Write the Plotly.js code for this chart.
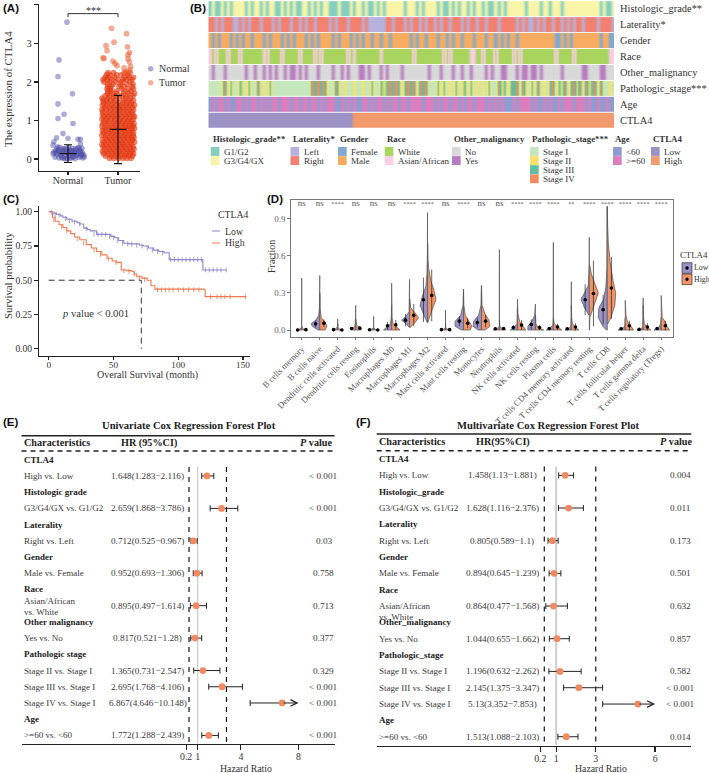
<!DOCTYPE html>
<html>
<head>
<meta charset="utf-8">
<script src="https://cdn.plot.ly/plotly-3.0.1.min.js"></script>
<style>body{margin:0;background:#fff}</style>
</head>
<body>
<div id="fig" style="width:709px;height:773px"></div>
<script>
// (A) expression scatter, x offsets are the jitter
var normalX = [-.02,-.18,-.2,.09,-.2,-.2,-.08,.1,-.1,0,-.23,-.28,.25,.2,-.3,.25,.23,-.2,.28,
  -.3,-.26,-.22,-.18,-.14,-.1,-.06,-.02,.02,.06,.1,.14,.18,.22,.26,.3,.33,
  -.28,-.24,-.2,-.15,-.11,-.05,0,.05,.09,.13,.17,.21,.27,.31,
  -.25,-.19,-.12,-.08,-.03,.03,.07,.12,.16,.24,.29,
  -.22,-.16,-.09,-.04,.01,.08,.15,.2,.25,-.13,-.06,.04,.11];
var normalY = [3.55,2.57,2.14,1.69,1.43,1.05,1.16,.92,.66,.54,.55,.45,.51,.51,.36,.39,.28,.32,.28,
  .14,.05,.12,.03,.1,.02,.07,.01,.09,.03,.06,.01,.1,.04,.08,.03,.06,
  .18,.16,.2,.14,.18,.13,.16,.19,.13,.17,.14,.15,.12,.11,
  .22,.24,.21,.25,.2,.23,.22,.21,.24,.22,.16,
  .28,.3,.27,.26,.31,.28,.27,.3,.2,.04,.01,.03,.06];

var tumorBandY = [.02,.08,.14,.2,.26,.32,.38,.44,.5,.56,.62,.68,.74,.8,.86,.92,.98,1.04,1.1,1.16,1.22,1.28,1.34,1.4,1.46,1.52,1.58,1.64,1.7,1.76,1.82,1.88,1.94,2.0,2.06,2.12,2.18,2.24];
var tumorBandX = [
  [-.17,-.08,.01,.1,.18,.26],
  [-.25,-.14,-.05,.04,.13,.21,.29],
  [-.29,-.2,-.11,-.02,.07,.16,.24,.31],
  [-.31,-.22,-.13,-.05,.03,.11,.2,.28],
  [-.27,-.18,-.09,0,.09,.17,.25,.32],
  [-.3,-.21,-.12,-.03,.06,.14,.23,.3],
  [-.32,-.24,-.15,-.07,.02,.1,.19,.27],
  [-.28,-.19,-.1,-.01,.08,.16,.25,.33],
  [-.31,-.22,-.14,-.05,.04,.12,.21,.29],
  [-.26,-.17,-.08,.01,.1,.18,.27,.32],
  [-.32,-.23,-.13,-.04,.05,.14,.22,.3],
  [-.29,-.2,-.11,-.02,.07,.15,.24,.31],
  [-.31,-.24,-.15,-.06,.03,.12,.2,.28],
  [-.27,-.18,-.09,0,.09,.17,.26,.33],
  [-.32,-.22,-.12,-.03,.06,.15,.23,.3],
  [-.3,-.2,-.1,-.01,.08,.16,.25,.32],
  [-.28,-.19,-.08,.02,.1,.19,.27],
  [-.32,-.23,-.14,-.05,.04,.13,.22,.31],
  [-.29,-.21,-.11,-.02,.07,.16,.24,.33],
  [-.31,-.22,-.13,-.04,.05,.14,.23,.3],
  [-.3,-.19,-.09,.01,.11,.2,.28],
  [-.32,-.24,-.15,-.06,.03,.12,.22,.31],
  [-.27,-.17,-.08,.02,.1,.19,.29],
  [-.31,-.22,-.12,-.03,.06,.16,.25,.33],
  [-.29,-.2,-.1,0,.09,.18,.27],
  [-.3,-.23,-.14,-.05,.12,.22,.31],
  [-.32,-.2,-.09,.03,.15,.25],
  [-.26,-.17,-.06,.08,.18,.3],
  [-.21,-.12,-.02,.11,.22,.33],
  [-.2,-.14,-.03,.14,.26],
  [-.22,-.15,.07,.2,.31],
  [-.2,-.13,.02,.12,.28],
  [-.21,-.1,.05,.18,.3],
  [-.28,-.16,-.04,.08,.24],
  [-.3,-.22,-.12,0,.1,.17,.28],
  [-.26,-.19,-.07,.13,.22,.31],
  [-.23,-.16,-.03,.06,.2],
  [-.2,-.09,.13,.24]
];
var tumorTopX = [-.13,.17,-.08,-.24,.19,-.22,.23,.2,-.3,-.28,.2,-.1,.23,-.02,.25,.12,.18,.24,.15,-.06];
var tumorTopY = [3.39,3.25,3.03,2.94,2.91,2.81,2.76,2.7,2.62,2.61,2.6,2.54,2.52,2.42,2.4,2.36,2.27,2.31,2.22,2.48];
var groupMean = [.14,.77];
var groupSdUp = [.23,.88];
var groupSdDown = [.23,.89];
var groupNames = ['Normal','Tumor'];

// (B) annotation heatmap, one digit per patient column
var gradeCells = '010010101111010 110101100101010 011010101100010 001011010010101 111110111010111 101001010110101 101001010111111 011110110111011 111111111101001';
var lateralityCells = '110101110010101 110111010111011 010110111101011 101111010000001 101110101101011 010110111010110 110111011111010 100101011011010 101101111011110';
var genderCells = '101011101010110 111010111010101 110101011110101 110101011011011 011111101011011 101101011011101 110110101011011 111111111100101 011111111101100';
var raceCells = '102000200020000 000120000200000 200002020000000 020100000000100 000000002000000 000202000000110 020002000002020 000000000020000 020000000000011';
var otherCells = '010001000000100 100101010010110 101000100001001 010001101000101 000010000000010 001000100100100 001010011000101 101101000000100 000011000011000';
var stageCells = '000013020021020 030102000000000 000032323100310 100100100200212 323202323032300 020201020120201 010200312022303 102030102302130 231303123030010';
var ageCells = '010110100110101 101010110111011 011011010111001 010100110101101 011011011110111 010110110101101 110101010001011 110100101001011 101110100100100';
var ctla4Cells = '000000000000000 000000000000000 000000000000000 000111111111111 111111111111111 111111111111111 111111111111111 111111111111111 111111111111111';
var heatRows = ['Histologic_grade**','Laterality*','Gender','Race','Other_malignancy','Pathologic_stage***','Age','CTLA4'];
var heatCells = [gradeCells,lateralityCells,genderCells,raceCells,otherCells,stageCells,ageCells,ctla4Cells];
var heatColors = [['#84CFC0','#F8F5A9'],['#B6B1DD','#F4806F'],['#7FA9CF','#F8AC61'],['#A9D45E','#F8CFE4','#CBD08F'],
  ['#D9D9D9','#B87DC0'],['#C6E7BD','#F8E26B','#5FBF9F','#F58C61'],['#8E9DD0','#DC7EBD'],['#9C92C4','#F19A6E']];

// (C) survival curves
var lowMonths = [0,3,6,9,11,14,18,22,24,27,30,32,37,42,45,48,51,54,58,62,66,70,73,77,81,85,89,93,118.5,119,137];
var lowSurv = [1,.99,.98,.97,.96,.945,.93,.92,.91,.88,.87,.86,.835,.835,.835,.82,.81,.79,.77,.765,.765,.755,.75,.735,.72,.71,.7,.65,.65,.575,.575];
var highMonths = [0,3,5,8,11,14,17,20,24,29,33,37,41,45,49,52,56,60,64,66,68,72,76,79,82,120,120.8,152.6];
var highSurv = [1,.96,.93,.905,.885,.86,.84,.815,.795,.76,.735,.71,.685,.66,.64,.63,.575,.57,.565,.545,.525,.515,.5,.46,.435,.43,.38,.38];
var lowCensorX = [2,5,8,13,16,20,24,29,35,38,41,44,47,50,53,57,61,64,68,72,76,80,84,88,94,97,100,103,106,109,112,115,118,121,124,127,130,133,137];
var lowCensorY = [.995,.98,.975,.95,.935,.925,.91,.875,.835,.835,.835,.835,.82,.81,.79,.77,.765,.765,.755,.75,.735,.72,.71,.7,.65,.65,.65,.65,.65,.65,.65,.65,.65,.575,.575,.575,.575,.575,.575];
var highCensorX = [4,10,14,22,27,35,40,46,52,58,62,66,70,74,84,87,90,93,96,100,104,108,112,116,125,130,133,136,140,152];
var highCensorY = [.94,.89,.86,.8,.77,.72,.69,.655,.63,.57,.565,.545,.52,.505,.43,.43,.43,.43,.43,.43,.43,.43,.43,.43,.38,.38,.38,.38,.38,.38];

// (D) immune cell fractions: half violin profiles as [fraction, half width]
var cellTypes = ['B cells memory','B cells naive','Dendritic cells activated','Dendritic cells resting','Eosinophils','Macrophages M0','Macrophages M1','Macrophages M2','Mast cells activated','Mast cells resting','Monocytes','Neutrophils','NK cells activated','NK cells resting','Plasma cells','T cells CD4 memory activated','T cells CD4 memory resting','T cells CD8','T cells follicular helper','T cells gamma delta','T cells regulatory (Tregs)'];
var cellSig = ['ns','ns','****','ns','ns','ns','****','****','ns','****','ns','ns','****','****','****','**','****','****','****','****','****'];
var violinLow = [
  [[0,.3],[.008,.12],[.02,.01],[.42,.004]],
  [[0,.1],[.03,.42],[.05,.48],[.08,.22],[.12,.06],[.2,.01],[.44,.003]],
  [[0,.3],[.01,.1],[.03,.005],[.09,.003]],
  [[0,.25],[.012,.22],[.03,.05],[.1,.006],[.2,.003]],
  [[0,.3],[.008,.1],[.02,.004],[.11,.003]],
  [[0,.45],[.02,.3],[.05,.06],[.1,.02],[.2,.005]],
  [[.025,.04],[.05,.2],[.08,.45],[.11,.2],[.15,.03],[.41,.003]],
  [[.06,.02],[.12,.2],[.2,.42],[.28,.28],[.35,.1],[.45,.04],[.6,.01],[.95,.003]],
  [[0,.3],[.008,.1],[.02,.005],[.16,.003]],
  [[0,.12],[.03,.47],[.07,.47],[.12,.16],[.2,.03],[.33,.003]],
  [[0,.2],[.03,.47],[.07,.44],[.12,.16],[.2,.03],[.36,.003]],
  [[0,.35],[.012,.12],[.03,.01],[.65,.003]],
  [[0,.4],[.02,.2],[.05,.03],[.1,.01],[.18,.003]],
  [[0,.42],[.03,.42],[.07,.2],[.12,.04],[.21,.003]],
  [[0,.4],[.015,.2],[.04,.03],[.1,.005],[.71,.003]],
  [[0,.35],[.012,.15],[.03,.03],[.1,.005],[.39,.003]],
  [[.12,.02],[.18,.27],[.25,.47],[.3,.27],[.36,.06],[.5,.01],[.75,.003]],
  [[0,.05],[.03,.25],[.1,.5],[.18,.47],[.25,.2],[.35,.08],[.5,.02],[1,.003]],
  [[0,.4],[.01,.2],[.03,.03],[.06,.01],[.1,.003]],
  [[0,.35],[.01,.1],[.03,.02],[.26,.003]],
  [[0,.4],[.02,.15],[.05,.03],[.1,.004]]
];
var violinHigh = [
  [[0,.3],[.008,.1],[.02,.005],[.03,.003]],
  [[0,.3],[.03,.4],[.06,.32],[.1,.08],[.17,.02],[.3,.004]],
  [[0,.3],[.008,.1],[.02,.004],[.05,.002]],
  [[0,.3],[.02,.22],[.04,.05],[.09,.006]],
  [[0,.3],[.006,.08],[.02,.003]],
  [[0,.47],[.02,.32],[.05,.08],[.1,.02],[.38,.003]],
  [[.02,.03],[.06,.3],[.1,.5],[.14,.3],[.18,.06],[.25,.01]],
  [[.06,.01],[.15,.22],[.25,.47],[.32,.36],[.4,.18],[.5,.06],[.58,.02],[.7,.005]],
  [[0,.3],[.008,.1],[.02,.005],[.05,.002]],
  [[0,.37],[.03,.47],[.07,.3],[.12,.1],[.2,.02],[.33,.003]],
  [[0,.2],[.03,.47],[.08,.42],[.13,.2],[.2,.03],[.36,.003]],
  [[0,.35],[.012,.15],[.03,.02],[.08,.004]],
  [[0,.47],[.03,.32],[.07,.12],[.13,.03],[.25,.003]],
  [[0,.47],[.02,.15],[.05,.03],[.12,.005]],
  [[0,.47],[.02,.3],[.05,.05],[.1,.006]],
  [[0,.42],[.02,.25],[.05,.06],[.1,.02],[.2,.004]],
  [[0,.015],[.1,.03],[.2,.25],[.3,.5],[.38,.3],[.45,.12],[.52,.03]],
  [[.05,.03],[.1,.2],[.2,.42],[.3,.47],[.4,.32],[.55,.16],[.7,.06],[.85,.02],[1,.003]],
  [[0,.47],[.03,.32],[.07,.12],[.12,.04],[.24,.003]],
  [[0,.42],[.02,.25],[.05,.06],[.1,.02],[.2,.004]],
  [[0,.47],[.03,.32],[.06,.26],[.1,.06],[.28,.003]]
];
var meanLow = [0,.05,.003,.012,.002,.035,.08,.245,.003,.072,.06,.01,.02,.045,.012,.01,.245,.165,.01,.005,.012];
var meanHigh = [.003,.055,0,.015,0,.042,.12,.28,.003,.055,.072,.012,.04,.02,.025,.025,.295,.34,.035,.025,.035];
var sdLow = [.01,.03,.005,.01,.004,.03,.05,.18,.005,.04,.04,.01,.02,.04,.012,.01,.125,.12,.01,.005,.012];
var sdHigh = [.01,.03,.003,.012,.003,.04,.09,.21,.005,.04,.05,.012,.04,.02,.025,.03,.265,.25,.04,.03,.04];

// (E) and (F) Cox regression tables
var forestRowNames = ['CTLA4','High vs. Low','Histologic grade','G3/G4/GX vs. G1/G2','Laterality','Right vs. Left','Gender','Male vs. Female','Race','Asian/African','Other malignancy','Yes vs. No','Pathologic stage','Stage II vs. Stage I','Stage III vs. Stage I','Stage IV vs. Stage I','Age','&gt;=60 vs. &lt;60'];
var forestRowsF = ['CTLA4','High vs. Low','Histologic_grade','G3/G4/GX vs. G1/G2','Laterality','Right vs. Left','Gender','Male vs. Female','Race','Asian/African','Other_malignancy','Yes vs. No','Pathologic_stage','Stage II vs. Stage I','Stage III vs. Stage I','Stage IV vs. Stage I','Age','&gt;=60 vs. &lt;60'];
var dataRows = [1,3,5,7,9,11,13,14,15,17];
var uniHR = [1.648,2.659,.712,.952,.895,.817,1.365,2.695,6.867,1.772];
var uniLo = [1.283,1.868,.525,.693,.497,.521,.731,1.768,4.646,1.288];
var uniHi = [2.116,3.786,.967,1.306,1.614,1.28,2.547,4.106,10.148,2.439];
var uniP = ['&lt; 0.001','&lt; 0.001','0.03','0.758','0.713','0.377','0.329','&lt; 0.001','&lt; 0.001','&lt; 0.001'];
var multiHR = [1.458,1.628,.805,.894,.864,1.044,1.196,2.145,5.13,1.513];
var multiLo = [1.13,1.116,.589,.645,.477,.655,.632,1.375,3.352,1.088];
var multiHi = [1.881,2.376,1.1,1.239,1.568,1.662,2.262,3.347,7.853,2.103];
var multiP = ['0.004','0.011','0.173','0.501','0.632','0.857','0.582','&lt; 0.001','&lt; 0.001','0.014'];

var serif = '"Liberation Serif", serif';
var ink = '#333';
function dx(a, b) { return [a / 709, b / 709]; }
function dy(top, bottom) { return [1 - bottom / 773, 1 - top / 773]; }
function px(x) { return x / 709; }
function py(y) { return 1 - y / 773; }

var annotations = [], shapes = [], traces = [];
function label(x, y, text, size, anchor, extra) {
  var a = {xref: 'paper', yref: 'paper', x: px(x), y: py(y), text: text, showarrow: false,
    xanchor: anchor || 'left', yanchor: 'middle', font: {size: size, color: ink, family: serif}};
  for (var k in (extra || {})) a[k] = extra[k];
  annotations.push(a);
}
function square(x, y, w, h, color, line) {
  shapes.push({type: 'rect', xref: 'paper', yref: 'paper', x0: px(x), x1: px(x + w), y0: py(y + h), y1: py(y),
    fillcolor: color, line: line || {width: 0}});
}
function rule(x0, x1, y, width, dash) {
  shapes.push({type: 'line', xref: 'paper', yref: 'paper', x0: px(x0), x1: px(x1), y0: py(y), y1: py(y),
    line: {color: '#222', width: width, dash: dash || 'solid'}});
}
function panel(x, y, name) {
  label(x, y, '<b>' + name + '</b>', 11.5, 'left', {font: {size: 11.5, color: '#111', family: '"Liberation Sans", sans-serif'}});
}
panel(1, 8, '(A)'); panel(188, 8, '(B)'); panel(1, 199, '(C)'); panel(265, 199, '(D)'); panel(1, 422, '(E)'); panel(354, 422, '(F)');

// --- A
var tumorX = [], tumorY = [];
tumorBandX.forEach(function (xs, i) {
  xs.forEach(function (v) { tumorX.push(2 + v); tumorY.push(tumorBandY[i]); });
});
traces.push({type: 'scatter', mode: 'markers', xaxis: 'x', yaxis: 'y', x: normalX.map(function (v) { return 1 + v; }), y: normalY,
  marker: {size: 5.6, color: 'rgba(72,72,165,0.45)'}});
traces.push({type: 'scatter', mode: 'markers', xaxis: 'x', yaxis: 'y', x: tumorX, y: tumorY,
  marker: {size: 5.8, color: 'rgba(228,55,15,0.62)'}});
traces.push({type: 'scatter', mode: 'markers', xaxis: 'x', yaxis: 'y', x: tumorTopX.map(function (v) { return 2 + v; }), y: tumorTopY,
  marker: {size: 5.8, color: 'rgba(236,85,40,0.5)'}});
traces.push({type: 'scatter', mode: 'markers', xaxis: 'x', yaxis: 'y', x: [1, 2], y: groupMean, marker: {size: 1, color: '#111'},
  error_y: {type: 'data', symmetric: false, array: groupSdUp, arrayminus: groupSdDown, color: '#111', thickness: 1.2, width: 4},
  error_x: {type: 'constant', value: 0.17, color: '#111', thickness: 1.2, width: 0}});
traces.push({type: 'scatter', mode: 'lines', xaxis: 'x', yaxis: 'y', x: [1, 1, 2, 2], y: [3.68, 3.77, 3.77, 3.68], line: {color: '#333', width: 1}});
label(93, 11, '***', 10, 'center');
label(8, 89, 'The expression of CTLA4', 11, 'center', {textangle: -90});
shapes.push({type: 'circle', xref: 'paper', yref: 'paper', x0: px(148), x1: px(153.4), y0: py(71.4), y1: py(66), fillcolor: 'rgba(72,72,165,0.45)', line: {width: 0}});
shapes.push({type: 'circle', xref: 'paper', yref: 'paper', x0: px(148), x1: px(153.4), y0: py(85.4), y1: py(80), fillcolor: 'rgba(240,110,70,0.55)', line: {width: 0}});
label(156.5, 68.5, 'Normal', 10); label(156.5, 82.5, 'Tumor', 10);

// --- B
heatRows.forEach(function (name, i) {
  var digits = heatCells[i].replace(/ /g, '').split('').map(Number);
  var cols = heatColors[i];
  traces.push({type: 'heatmap', xaxis: 'x2', yaxis: 'y2', z: [digits, digits], y: [i - .235, i + .235], zsmooth: 'best', showscale: false, hoverinfo: 'skip',
    zmin: 0, zmax: cols.length - 1,
    colorscale: cols.map(function (c, k) { return [k / (cols.length - 1), c]; })});
});
var keyBlocks = [
  {x: 210.7, title: 'Histologic_grade**', names: ['G1/G2', 'G3/G4/GX'], row: 0},
  {x: 290.5, title: 'Laterality*', names: ['Left', 'Right'], row: 1},
  {x: 338, title: 'Gender', names: ['Female', 'Male'], row: 2},
  {x: 384.7, title: 'Race', names: ['White', 'Asian/African'], row: 3},
  {x: 452, title: 'Other_malignancy', names: ['No', 'Yes'], row: 4},
  {x: 530, title: 'Pathologic_stage***', names: ['Stage I', 'Stage II', 'Stage III', 'Stage IV'], row: 5},
  {x: 613, title: 'Age', names: ['&lt;60', '&gt;=60'], row: 6},
  {x: 651, title: 'CTLA4', names: ['Low', 'High'], row: 7}
];
keyBlocks.forEach(function (b) {
  label(b.x, 139, '<b>' + b.title + '</b>', 8.8);
  b.names.forEach(function (n, k) {
    var y0 = 147 + k * 9.1;
    square(b.x, y0, 8.7, 8.9, heatColors[b.row][k]);
    label(b.x + 11.3, y0 + 4.6, n, 9);
  });
});

// --- C
traces.push({type: 'scatter', mode: 'lines', xaxis: 'x3', yaxis: 'y3', x: lowMonths, y: lowSurv, line: {color: '#8E88C8', width: 1.1, shape: 'hv'}});
traces.push({type: 'scatter', mode: 'lines', xaxis: 'x3', yaxis: 'y3', x: highMonths, y: highSurv, line: {color: '#F07A50', width: 1.1, shape: 'hv'}});
traces.push({type: 'scatter', mode: 'markers', xaxis: 'x3', yaxis: 'y3', x: lowCensorX, y: lowCensorY, marker: {symbol: 'line-ns', size: 3.5, line: {color: '#8E88C8', width: .8}}});
traces.push({type: 'scatter', mode: 'markers', xaxis: 'x3', yaxis: 'y3', x: highCensorX, y: highCensorY, marker: {symbol: 'line-ns', size: 3.5, line: {color: '#F07A50', width: .8}}});
traces.push({type: 'scatter', mode: 'lines', xaxis: 'x3', yaxis: 'y3', x: [0, 71.5, 71.5], y: [.5, .5, 0], line: {color: '#333', width: 1, dash: '6px,4px'}});
label(60, 313, '<i>p</i> value &lt; 0.001', 10.6);
label(8, 276, 'Survival probability', 10.8, 'center', {textangle: -90});
label(147, 375, 'Overall Survival (month)', 10, 'center');
label(216, 214, 'CTLA4', 9.8);
shapes.push({type: 'line', xref: 'paper', yref: 'paper', x0: px(212), x1: px(220), y0: py(231), y1: py(231), line: {color: '#8E88C8', width: 1}});
shapes.push({type: 'line', xref: 'paper', yref: 'paper', x0: px(212), x1: px(220), y0: py(243), y1: py(243), line: {color: '#F07A50', width: 1}});
label(222.5, 231, 'Low', 9.8); label(222.5, 243, 'High', 9.8);

// --- D
function violinPath(profiles, sign) {
  var xs = [], ys = [];
  profiles.forEach(function (prof, i) {
    xs.push(i); ys.push(prof[0][0]);
    prof.forEach(function (p) { xs.push(i + sign * p[1]); ys.push(p[0]); });
    xs.push(i); ys.push(prof[prof.length - 1][0]);
    xs.push(i); ys.push(prof[0][0]);
    xs.push(null); ys.push(null);
  });
  return {x: xs, y: ys};
}
var pathLow = violinPath(violinLow, -1), pathHigh = violinPath(violinHigh, 1);
var catIdx = cellTypes.map(function (c, i) { return i; });
traces.push({type: 'scatter', mode: 'lines', xaxis: 'x4', yaxis: 'y4', x: pathLow.x, y: pathLow.y, fill: 'toself', fillcolor: '#9A92C6', line: {color: '#555', width: .7}});
traces.push({type: 'scatter', mode: 'lines', xaxis: 'x4', yaxis: 'y4', x: pathHigh.x, y: pathHigh.y, fill: 'toself', fillcolor: '#F19468', line: {color: '#555', width: .7}});
traces.push({type: 'scatter', mode: 'markers', xaxis: 'x4', yaxis: 'y4', x: catIdx.map(function (i) { return i - .23; }), y: meanLow,
  marker: {size: 3.6, color: '#000'}, error_y: {type: 'data', array: sdLow, color: '#222', thickness: .7, width: 0}});
traces.push({type: 'scatter', mode: 'markers', xaxis: 'x4', yaxis: 'y4', x: catIdx.map(function (i) { return i + .23; }), y: meanHigh,
  marker: {size: 3.6, color: '#000'}, error_y: {type: 'data', array: sdHigh, color: '#222', thickness: .7, width: 0}});
traces.push({type: 'scatter', mode: 'text', xaxis: 'x4', yaxis: 'y4', x: catIdx, y: cellSig.map(function () { return 1.019; }), text: cellSig,
  textposition: 'middle center', textfont: {size: cellSig.map(function (s) { return s === 'ns' ? 8.8 : 6.4; }), color: '#555', family: serif}});
label(271, 257, 'Fraction', 10, 'center', {textangle: -90});
label(678, 255.5, 'CTLA4', 8.8);
square(682, 262.7, 10, 10.6, '#9A92C6', {color: '#333', width: .7});
square(682, 274, 10, 10.6, '#F19468', {color: '#333', width: .7});
shapes.push({type: 'circle', xref: 'paper', yref: 'paper', x0: px(685.3), x1: px(688.7), y0: py(269.7), y1: py(266.3), fillcolor: '#000', line: {width: 0}});
shapes.push({type: 'circle', xref: 'paper', yref: 'paper', x0: px(685.3), x1: px(688.7), y0: py(281), y1: py(277.6), fillcolor: '#000', line: {width: 0}});
label(691.5, 268, 'Low', 7.8); label(691.5, 279.5, 'High', 7.8);

// --- E, F
function forest(o) {
  var ya = o.yaxisId, xa = o.xaxisId;
  var capped = o.hi.map(function (v) { return v > o.cap; });
  traces.push({type: 'scatter', mode: 'lines', xaxis: xa, yaxis: ya, x: [1, 1], y: [.45, 17.5], line: {color: '#cfcfcf', width: o.grey}});
  [.4, 3].forEach(function (v) {
    traces.push({type: 'scatter', mode: 'lines', xaxis: xa, yaxis: ya, x: [v, v], y: [.45, 17.5], line: {color: '#111', width: 1.2, dash: '5px,5px'}});
  });
  traces.push({type: 'scatter', mode: 'markers', xaxis: xa, yaxis: ya, x: o.hr, y: dataRows, marker: {size: 6.8, color: '#F08A62'},
    error_x: {type: 'data', symmetric: false, color: '#222', thickness: 1, width: 3,
      array: o.hi.map(function (v, i) { return capped[i] ? 0 : v - o.hr[i]; }),
      arrayminus: o.lo.map(function (v, i) { return o.hr[i] - v; })}});
  o.hi.forEach(function (v, i) {
    if (capped[i]) annotations.push({xref: xa, yref: ya, axref: xa, ayref: ya, x: o.cap, y: dataRows[i], ax: o.hr[i], ay: dataRows[i], text: '',
      showarrow: true, arrowhead: 5, arrowsize: 1.3, arrowwidth: 1, arrowcolor: '#222'});
  });
  label(o.title[0], 425.7, '<b>' + o.title[1] + '</b>', 10.6, 'center', {font: {size: 10.6, color: '#222', family: serif}});
  rule(o.left, o.right, o.topRule, 1.4);
  rule(o.left, o.right, o.dashRule, 1.4, '5px,4px');
  var head = {font: {size: 10.2, color: '#222', family: serif}};
  label(o.left, o.headY, '<b>Characteristics</b>', 10.2, 'left', head);
  label(o.hrHead, o.headY, '<b>' + o.hrTitle + '</b>', 10.2, 'center', head);
  label(o.pHead, o.headY, '<b><i>P</i> value</b>', 10.2, 'center', head);
  o.names.forEach(function (n, r) {
    var isHead = dataRows.indexOf(r) < 0;
    annotations.push({xref: 'paper', yref: ya, x: px(o.left), y: r, text: isHead ? '<b>' + n + '</b>' : n, showarrow: false, xanchor: 'left', yanchor: 'middle',
      yshift: n === 'Asian/African' ? o.asianShift : 0,
      font: {size: 9, color: isHead ? '#222' : '#3a3a3a', family: serif}});
  });
  annotations.push({xref: 'paper', yref: ya, x: px(o.left), y: 9, yshift: o.whiteShift, text: 'vs. White', showarrow: false, xanchor: 'left', yanchor: 'middle',
    font: {size: 9, color: '#3a3a3a', family: serif}});
  dataRows.forEach(function (r, i) {
    var txt = o.hr[i] + '(' + o.lo[i] + '\u2212' + o.hi[i] + ')';
    annotations.push({xref: 'paper', yref: ya, x: px(o.hrX), y: r, text: txt, showarrow: false, xanchor: 'center', yanchor: 'middle', font: {size: 9.2, color: '#3a3a3a', family: serif}});
    annotations.push({xref: 'paper', yref: ya, x: px(o.pX), y: r, text: o.p[i], showarrow: false, xanchor: 'center', yanchor: 'middle', font: {size: 9.2, color: '#3a3a3a', family: serif}});
  });
  label(o.axisMid, 768.8, 'Hazard Ratio', 9.8, 'center');
}
forest({xaxisId: 'x5', yaxisId: 'y5', hr: uniHR, lo: uniLo, hi: uniHi, p: uniP, names: forestRowNames, cap: 8, grey: 1.3,
  title: [189.3, 'Univariate Cox Regression Forest Plot'], hrTitle: 'HR (95%CI)', left: 21.5, right: 334.5, topRule: 435.7, dashRule: 451, headY: 442.7,
  hrHead: 149, pHead: 316, hrX: 147.5, pX: 323.7, asianShift: 4.7, whiteShift: -6.3, axisMid: 246});
forest({xaxisId: 'x6', yaxisId: 'y6', hr: multiHR, lo: multiLo, hi: multiHi, p: multiP, names: forestRowsF, cap: 6, grey: 2,
  title: [548, 'Multivariate Cox Regression Forest Plot'], hrTitle: 'HR(95%CI)', left: 376.7, right: 691.3, topRule: 434, dashRule: 450.7, headY: 441.7,
  hrHead: 503, pHead: 676, hrX: 502.3, pX: 680, asianShift: 0, whiteShift: -11, axisMid: 600.5});

var axisFont = {size: 10, color: ink, family: serif};
var blackAxis = {showgrid: false, zeroline: false, showline: true, linecolor: '#222', linewidth: 1.2, ticks: 'outside', ticklen: 4, tickwidth: 1.2, tickcolor: '#222', tickfont: axisFont};
function merge(a, b) { var o = {}; for (var k in a) o[k] = a[k]; for (var j in b) o[j] = b[j]; return o; }

var layout = {
  width: 709, height: 773, autosize: false, margin: {l: 0, r: 0, t: 0, b: 0, pad: 0}, paper_bgcolor: '#fff', plot_bgcolor: 'rgba(0,0,0,0)',
  showlegend: false, hovermode: false, font: {family: serif, color: ink},
  annotations: annotations, shapes: shapes,
  // A
  xaxis: merge(blackAxis, {domain: dx(39, 140), range: [.42, 2.44], tickvals: [1, 2], ticktext: groupNames, anchor: 'y', ticklen: 3, ticklabelstandoff: -3}),
  yaxis: merge(blackAxis, {domain: dy(4, 171), range: [-.31, 4.02], tickvals: [0, 1, 2, 3, 4], anchor: 'x', tickfont: {size: 10.5, color: ink, family: serif}}),
  // B
  xaxis2: {domain: dx(208.3, 614), visible: false, anchor: 'y2', range: [-.5, 134.5]},
  yaxis2: {domain: dy(.7, 128.2), range: [7.5, -.5], side: 'right', anchor: 'x2', showgrid: false, zeroline: false, tickvals: [0, 1, 2, 3, 4, 5, 6, 7], ticktext: heatRows,
    ticks: 'outside', ticklen: 3, tickcolor: 'rgba(0,0,0,0)', tickfont: {size: 10.4, color: ink, family: serif}},
  // C
  xaxis3: merge(blackAxis, {domain: dx(39.3, 250), range: [-7.25, 155.4], tickvals: [0, 50, 100, 150], anchor: 'y3', ticklen: 3, ticklabelstandoff: -3, tickfont: {size: 9.2, color: ink, family: serif}}),
  yaxis3: merge(blackAxis, {domain: dy(205.7, 355.7), range: [-.051, 1.044], tickvals: [0, .25, .5, .75, 1], tickformat: '.2f', anchor: 'x3', tickfont: {size: 9.6, color: ink, family: serif}}),
  // D
  xaxis4: {domain: dx(291, 672.7), range: [-.6, 20.64], anchor: 'y4', showgrid: false, zeroline: false, tickvals: catIdx, ticktext: cellTypes, tickangle: -45,
    ticks: 'outside', ticklen: 2.5, tickwidth: .8, tickcolor: '#555', tickfont: {size: 8.7, color: '#555', family: serif}, showline: true, mirror: true, linecolor: '#777', linewidth: 1.2},
  yaxis4: {domain: dy(200, 336.7), range: [-.054, 1.052], anchor: 'x4', showgrid: false, zeroline: false, tickvals: [0, .3, .6, .9], tickformat: '.1f',
    ticks: 'outside', ticklen: 2.5, tickwidth: .8, tickcolor: '#555', tickfont: {size: 9, color: '#666', family: serif}, showline: true, mirror: true, linecolor: '#777', linewidth: 1.2},
  // E
  xaxis5: merge(blackAxis, {domain: dx(21.5, 334.5), range: [-11.23, 10.5], tickvals: [.2, 1, 4, 8], ticktext: ['0.2', '1', '4', '8'], anchor: 'y5', linewidth: 1.4, ticklen: 5, ticklabelstandoff: -2, tickfont: {size: 9.8, color: ink, family: serif}}),
  yaxis5: {domain: dy(444, 744), range: [17.53, -.97], anchor: 'x5', visible: false},
  // F
  xaxis6: merge(blackAxis, {domain: dx(376.7, 691.3), range: [-8.07, 7.83], tickvals: [.2, 1, 3, 6], ticktext: ['0.2', '1', '3', '6'], anchor: 'y6', linewidth: 1.4, ticklen: 5, ticklabelstandoff: -2, tickfont: {size: 9.8, color: ink, family: serif}}),
  yaxis6: {domain: dy(444, 745.7), range: [17.55, -.92], anchor: 'x6', visible: false}
};
Plotly.newPlot('fig', traces, layout, {displayModeBar: false, staticPlot: true});
</script>
</body>
</html>
